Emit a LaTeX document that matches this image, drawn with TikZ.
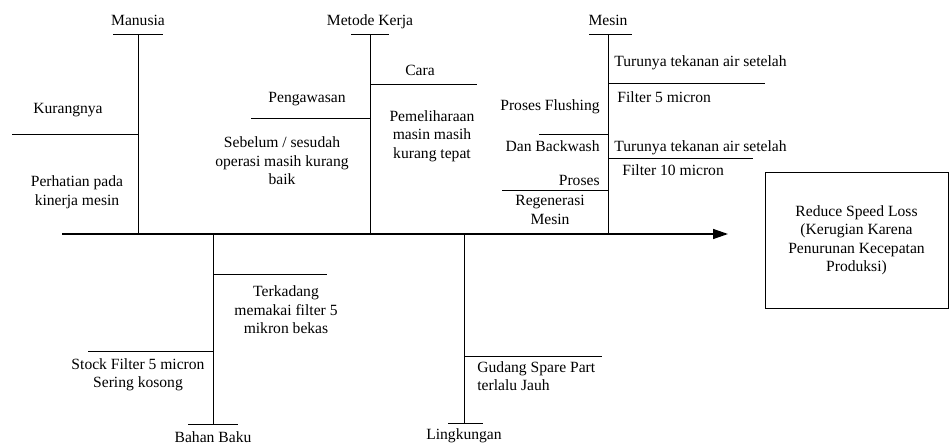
\documentclass[tikz,border=0pt]{standalone}
\usepackage{fontspec}
\setmainfont{Liberation Serif}
\usetikzlibrary{arrows.meta}
\begin{document}
\begin{tikzpicture}[x=1pt,y=-1pt,line width=0.8pt,
  txt/.style={inner sep=0pt,font=\fontsize{15.6}{18.5}\selectfont,align=center},
  txtl/.style={txt,anchor=west,align=left},
  txtr/.style={txt,anchor=east,align=right},
  bone/.style={line width=0.8pt},
  spine/.style={line width=1.4pt,-{Triangle[length=15pt,width=10pt]}},
  effect/.style={draw,line width=0.8pt,minimum width=183pt,minimum height=136pt,inner sep=0pt,
    font=\fontsize{15.6}{18.5}\selectfont,align=center}]
\useasboundingbox (0,0) rectangle (949,446);
% spine
\coordinate (s0) at (62,234);
\coordinate (tip) at (728,234);
\draw[spine] (s0) -- (tip);
% effect box
\node[effect] (box) at (856.5,240) {Reduce Speed Loss\\(Kerugian Karena\\Penurunan Kecepatan\\Produksi)};
% ---------- Manusia ----------
\coordinate (ma0) at (138,234);
\coordinate (ma1) at (138,34);
\coordinate (maL) at (113,34);
\coordinate (maR) at (163,34);
\draw[bone] (ma0) -- (ma1);
\draw[bone] (maL) -- (maR);
\node[txt] (manusia) at (138,20) {Manusia};
\coordinate (mab) at (138,134);
\coordinate (mab1) at (12,134);
\draw[bone] (mab) -- (mab1);
\node[txt] (kurang) at (68,110) {Kurangnya};
\node[txt] (perhatian) at (77,192) {Perhatian pada\\kinerja mesin};
% ---------- Metode Kerja ----------
\coordinate (mk0) at (370,234);
\coordinate (mk1) at (370,34);
\coordinate (mkL) at (351,34);
\coordinate (mkR) at (389,34);
\draw[bone] (mk0) -- (mk1);
\draw[bone] (mkL) -- (mkR);
\node[txt] (metode) at (370,22) {Metode Kerja};
\coordinate (cara0) at (370,84);
\coordinate (cara1) at (477,84);
\draw[bone] (cara0) -- (cara1);
\node[txt] (cara) at (420,70) {Cara};
\node[txt] (pemel) at (432,136) {Pemeliharaan\\masin masih\\kurang tepat};
\coordinate (peng0) at (370,118);
\coordinate (peng1) at (251,118);
\draw[bone] (peng0) -- (peng1);
\node[txt] (pengaw) at (307,99) {Pengawasan};
\node[txt] (sebelum) at (282,161) {Sebelum / sesudah\\operasi masih kurang\\baik};
% ---------- Mesin ----------
\coordinate (me0) at (608,234);
\coordinate (me1) at (608,34);
\coordinate (meL) at (589,34);
\coordinate (meR) at (632,34);
\draw[bone] (me0) -- (me1);
\draw[bone] (meL) -- (meR);
\node[txt] (mesin) at (608,20) {Mesin};
\coordinate (r1a) at (608,83);
\coordinate (r1b) at (765,83);
\draw[bone] (r1a) -- (r1b);
\node[txtl] (tur1) at (614,63) {Turunya tekanan air setelah};
\node[txtl] (f5) at (617,97) {Filter 5 micron};
\coordinate (r2a) at (608,158);
\coordinate (r2b) at (753,158);
\draw[bone] (r2a) -- (r2b);
\node[txtl] (tur2) at (614,148) {Turunya tekanan air setelah};
\node[txtl] (f10) at (622,170) {Filter 10 micron};
\coordinate (l1a) at (608,134);
\coordinate (l1b) at (539,134);
\draw[bone] (l1a) -- (l1b);
\node[txtr] (flush) at (600,107) {Proses Flushing};
\node[txtr] (backw) at (600,146) {Dan Backwash};
\coordinate (l2a) at (608,190);
\coordinate (l2b) at (502,190);
\draw[bone] (l2a) -- (l2b);
\node[txtr] (proses) at (600,180) {Proses};
\node[txt] (regen) at (550,210) {Regenerasi\\Mesin};
% ---------- Bahan Baku ----------
\coordinate (bb0) at (213,234);
\coordinate (bb1) at (213,424);
\coordinate (bbL) at (188,424);
\coordinate (bbR) at (238,424);
\draw[bone] (bb0) -- (bb1);
\draw[bone] (bbL) -- (bbR);
\node[txt] (bahan) at (213,437) {Bahan Baku};
\coordinate (tk0) at (213,274);
\coordinate (tk1) at (327,274);
\draw[bone] (tk0) -- (tk1);
\node[txt] (terkadang) at (286,310) {Terkadang\\memakai filter 5\\mikron bekas};
\coordinate (st0) at (213,351);
\coordinate (st1) at (88,351);
\draw[bone] (st0) -- (st1);
\node[txt] (stock) at (138,375) {Stock Filter 5 micron\\Sering kosong};
% ---------- Lingkungan ----------
\coordinate (li0) at (464,234);
\coordinate (li1) at (464,423);
\coordinate (liL) at (448,423);
\coordinate (liR) at (483,423);
\draw[bone] (li0) -- (li1);
\draw[bone] (liL) -- (liR);
\node[txt] (lingk) at (464,436) {Lingkungan};
\coordinate (gd0) at (464,356);
\coordinate (gd1) at (602,356);
\draw[bone] (gd0) -- (gd1);
\node[txtl] (gudang) at (477,376) {Gudang Spare Part\\terlalu Jauh};
\end{tikzpicture}
\end{document}
